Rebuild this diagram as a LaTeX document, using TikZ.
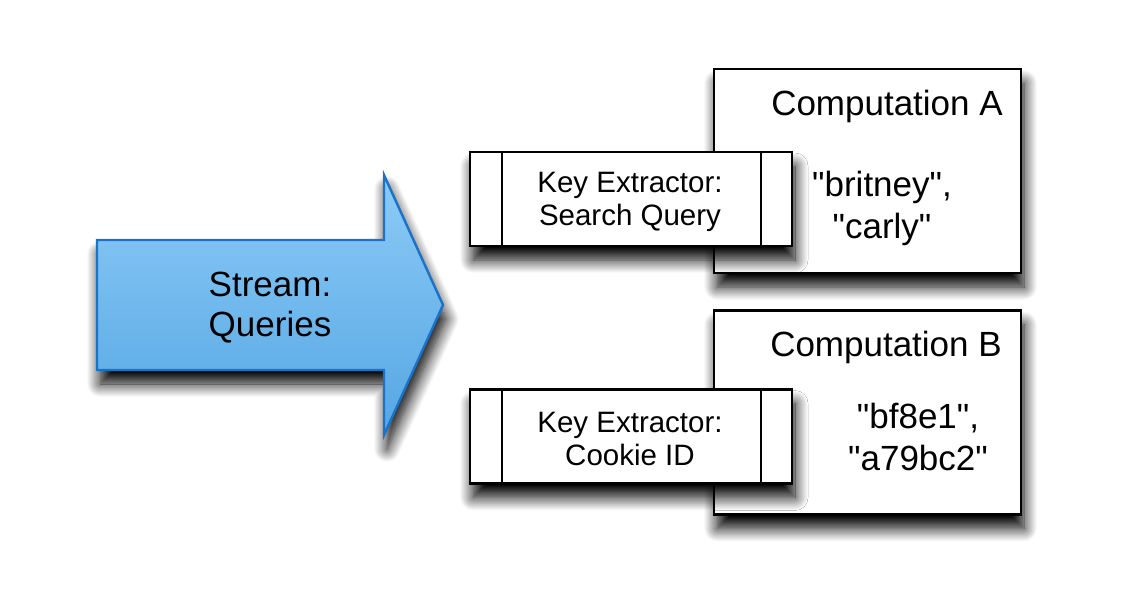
\documentclass[tikz,border=0pt]{standalone}
\usepackage{fontspec}
\setmainfont{Liberation Sans}
\usetikzlibrary{calc,shadows.blur}
\definecolor{arrowtop}{HTML}{8CCBF7}
\definecolor{arrowbot}{HTML}{55A6E3}
\definecolor{arrowline}{HTML}{1A73C8}
\newcommand{\qq}{\textquotedbl}
\tikzset{
  sh/.style={blur shadow={shadow xshift=3pt,shadow yshift=-14pt,shadow blur radius=13pt,shadow blur steps=14,shadow opacity=100}},
  compbox/.style={draw=black,line width=2.4pt,fill=white,sh,minimum width=307pt,minimum height=204pt,inner sep=0pt},
  keybox/.style={draw=black,line width=2.4pt,fill=white,sh,minimum width=322pt,minimum height=94pt,inner sep=0pt},
  bigtxt/.style={font=\fontsize{35}{42}\selectfont,align=center,inner sep=0pt},
  smalltxt/.style={font=\fontsize{29.5}{33}\selectfont,align=center,inner sep=0pt},
}
\begin{document}
\begin{tikzpicture}[x=1pt,y=-1pt]
\useasboundingbox (0,0) rectangle (1138,590);
% stream arrow
\path[sh,draw=arrowline,line width=2.4pt,line join=miter,top color=arrowtop,bottom color=arrowbot]
  (97,240) -- (384,240) -- (384,175) -- (443,305) -- (384,435) -- (384,370) -- (97,370) -- cycle;
\node[bigtxt,font=\fontsize{35}{40}\selectfont] (stream) at (270,308) {Stream:\\Queries};
% computation A
\node[compbox] (ca) at (867.5,171) {};
\node[bigtxt,anchor=base] (catitle) at (887,115) {Computation A};
\node[bigtxt] (cakeys) at (882,208) {\qq britney\qq,\\\qq carly\qq};
\node[keybox] (ka) at (631,199) {};
\draw[line width=2.4pt] ($(ka.north west)+(33,0)$) -- ($(ka.south west)+(33,0)$);
\draw[line width=2.4pt] ($(ka.north east)+(-32,0)$) -- ($(ka.south east)+(-32,0)$);
\node[smalltxt] (katxt) at (630,202) {Key Extractor:\\Search Query};
% computation B
\node[compbox] (cb) at (867.5,412.5) {};
\node[bigtxt,anchor=base] (cbtitle) at (886,356) {Computation B};
\node[bigtxt] (cbkeys) at (918,437) {\qq bf8e1\qq,\\\qq a79bc2\qq};
\node[keybox] (kb) at (631,436.5) {};
\draw[line width=2.4pt] ($(kb.north west)+(33,0)$) -- ($(kb.south west)+(33,0)$);
\draw[line width=2.4pt] ($(kb.north east)+(-32,0)$) -- ($(kb.south east)+(-32,0)$);
\node[smalltxt] (kbtxt) at (630,439) {Key Extractor:\\Cookie ID};
\end{tikzpicture}
\end{document}
